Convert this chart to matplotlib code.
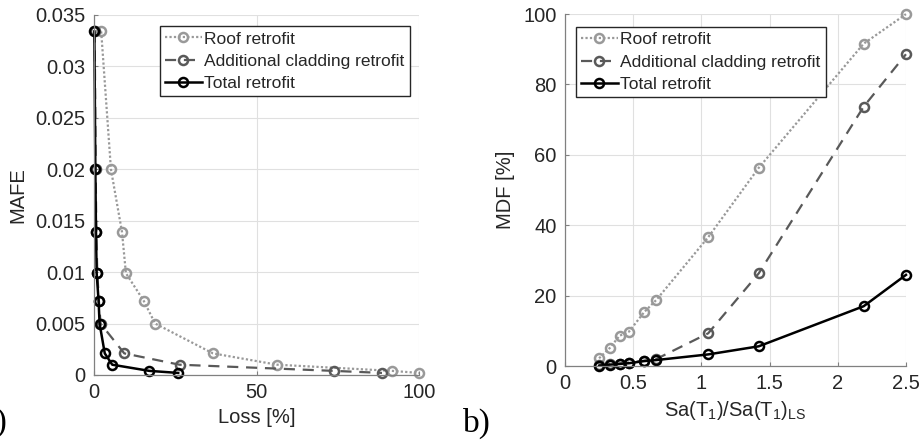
import numpy as np
import matplotlib
matplotlib.use("Agg")
import matplotlib.pyplot as plt
from matplotlib.ticker import FuncFormatter

plt.rcParams['font.family'] = ['Liberation Sans', 'DejaVu Sans']
plt.rcParams['mathtext.default'] = 'regular'

# Data
sa_ratio = [0.25, 0.33, 0.40, 0.47, 0.58, 0.67, 1.05, 1.42, 2.19, 2.5]
mafe = [0.0334, 0.0200, 0.0139, 0.0099, 0.0072, 0.0050, 0.0021, 0.0010, 0.0004, 0.0002]
mdf_roof = [2.2, 5.2, 8.6, 9.8, 15.3, 18.8, 36.6, 56.3, 91.6, 100.0]
mdf_cladding = [0.2, 0.5, 0.7, 1.0, 1.5, 2.0, 9.3, 26.3, 73.7, 88.6]
mdf_total = [0.1, 0.4, 0.6, 0.8, 1.4, 1.7, 3.3, 5.6, 17.0, 25.9]
labels = ["Roof retrofit", "Additional cladding retrofit", "Total retrofit"]

styles = [
    dict(color=(0.6, 0.6, 0.6), linestyle=(0, (1, 1)), lw=1.6),
    dict(color=(0.35, 0.35, 0.35), linestyle=(0, (5, 3.5)), lw=1.6),
    dict(color="black", linestyle="-", lw=1.8),
]
series = [mdf_roof, mdf_cladding, mdf_total]

text_col = (0.15, 0.15, 0.15)
fs = 14.5

fig = plt.figure(figsize=(9.22, 4.41), dpi=100)
ax1 = fig.add_axes([0.102, 0.1497, 0.3525, 0.8163])
ax2 = fig.add_axes([0.6128, 0.170, 0.3698, 0.798])

fmt = FuncFormatter(lambda v, p: "%g" % round(v, 6))


def style_axes(ax):
    ax.grid(True, color=(0.88, 0.88, 0.88), lw=0.8)
    ax.set_axisbelow(True)
    for s in ["top", "right"]:
        ax.spines[s].set_visible(False)
    for s in ["left", "bottom"]:
        ax.spines[s].set_color((0.5, 0.5, 0.5))
        ax.spines[s].set_linewidth(0.9)
    ax.tick_params(direction="in", length=3, color=(0.5, 0.5, 0.5),
                   labelsize=fs, labelcolor=text_col, pad=6)
    ax.xaxis.set_major_formatter(fmt)
    ax.yaxis.set_major_formatter(fmt)


# a) MAFE vs Loss
for vals, st, lab in zip(series, styles, labels):
    ax1.plot(vals, mafe, marker="o", ms=6.5, mfc="none", mew=1.8,
             label=lab, clip_on=False, **st)
ax1.set_xlim(0, 100)
ax1.set_ylim(0, 0.035)
ax1.set_xticks([0, 50, 100])
ax1.set_yticks(np.arange(0, 0.0351, 0.005))
style_axes(ax1)
ax1.set_xlabel("Loss [%]", fontsize=fs, color=text_col, labelpad=4)
ax1.set_ylabel("MAFE", fontsize=fs, color=text_col, labelpad=6)

# b) MDF vs Sa ratio
for vals, st, lab in zip(series, styles, labels):
    ax2.plot(sa_ratio, vals, marker="o", ms=6.5, mfc="none", mew=1.8,
             label=lab, clip_on=False, **st)
ax2.set_xlim(0, 2.5)
ax2.set_ylim(0, 100)
ax2.set_xticks(np.arange(0, 2.51, 0.5))
ax2.set_yticks(np.arange(0, 101, 20))
style_axes(ax2)
ax2.set_xlabel("Sa(T$_1$)/Sa(T$_1$)$_{LS}$", fontsize=fs, color=text_col, labelpad=4)
ax2.set_ylabel("MDF [%]", fontsize=fs, color=text_col, labelpad=6)

for ax, anchor in [(ax1, (0.203, 0.969)), (ax2, (0.032, 0.963))]:
    leg = ax.legend(loc="upper left", bbox_to_anchor=anchor, fontsize=12.5,
                    handlelength=2.1, handletextpad=0.15, borderpad=0.3,
                    labelspacing=0.4, borderaxespad=0, fancybox=False,
                    framealpha=1, edgecolor=(0.15, 0.15, 0.15))
    leg.get_frame().set_linewidth(1.0)
    for t in leg.get_texts():
        t.set_color(text_col)

fig.text(8 / 922, 1 - 423 / 441, "a)", ha="right", va="center",
         fontsize=24, family="Liberation Serif")
fig.text(463 / 922, 1 - 423 / 441, "b)", ha="left", va="center",
         fontsize=24, family="Liberation Serif")

fig.savefig("out.png", dpi=100)
